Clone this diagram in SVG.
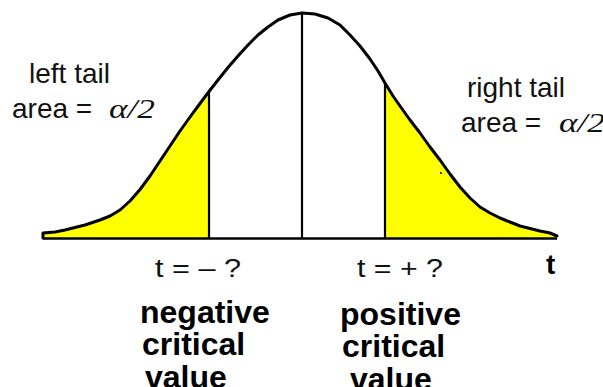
<svg xmlns="http://www.w3.org/2000/svg" width="603" height="387" viewBox="0 0 603 387">
<style>
.tail{fill:#FFFF00;stroke:none}
.ln{stroke:#000;stroke-width:2.2;fill:none}
.curve{stroke:#000;stroke-width:3;fill:none;stroke-linejoin:round;stroke-linecap:round}
.lab{font-family:"Liberation Sans",Arial,sans-serif;font-size:28px;fill:#111}
.greek{font-family:"Liberation Serif","Times New Roman",serif;font-style:italic;font-size:28px;fill:#111}
.tv{font-family:"Liberation Sans",Arial,sans-serif;font-size:26px;fill:#111}
.bold{font-family:"Liberation Sans",Arial,sans-serif;font-size:32px;font-weight:bold;fill:#000}
</style>
<rect width="603" height="387" fill="#fff"/>
<g id="left-tail">
<path class="tail" d="M43,238 L43,233 L55,232 L65,230 L73,228 L85,225 L100,220 L110,216 L120,210 L130,201 L140,189.5 L150,176 L160,161 L170,146 L180,131 L190,117 L200,103.5 L209,91.5 L209,238 Z"/>
</g>
<g id="right-tail">
<path class="tail" d="M385,83 L393,96 L400,106 L410,120 L420,133 L430,147 L440,160 L450,174 L460,187 L470,198 L480,207 L490,213 L500,218 L510,222 L520,226 L530,228.5 L540,231 L550,233 L557,236 L557,238 L385,238 Z"/>
<circle cx="441" cy="173" r="1" fill="#000"/>
</g>
<g id="curve">
<polyline class="curve" points="43,238 43,233 55,232 65,230 73,228 85,225 100,220 110,216 120,210 130,201 140,189.5 150,176 160,161 170,146 180,131 190,117 200,103.5 209,91.5 218,80 228,67.5 238,56 248,45 258,35 268,27 278,20 290,15 302,13 315,14 328,18 340,25 350,35 360,46 370,59 378,71 385,83 393,96 400,106 410,120 420,133 430,147 440,160 450,174 460,187 470,198 480,207 490,213 500,218 510,222 520,226 530,228.5 540,231 550,233 557,236"/>
</g>
<g id="lines">
<line class="ln" x1="43" y1="238.5" x2="557" y2="238.5" style="stroke-width:2.6"/>
<line class="ln" x1="209" y1="91.5" x2="209" y2="238"/>
<line class="ln" x1="302" y1="13" x2="302" y2="238"/>
<line class="ln" x1="385" y1="83" x2="385" y2="238"/>
</g>
<g id="left-label">
<text class="lab" x="29" y="83" textLength="81" lengthAdjust="spacingAndGlyphs">left tail</text>
<text class="lab" x="12" y="118">area =</text>
<text class="greek" x="109" y="118" textLength="46" lengthAdjust="spacingAndGlyphs">α/2</text>
</g>
<g id="right-label">
<text class="lab" x="467" y="97" textLength="98" lengthAdjust="spacingAndGlyphs">right tail</text>
<text class="lab" x="461" y="132">area =</text>
<text class="greek" x="559" y="132" textLength="46" lengthAdjust="spacingAndGlyphs">α/2</text>
</g>
<g id="axis-label">
<text class="bold" x="546" y="274" style="font-size:28px">t</text>
</g>
<g id="neg-critical">
<text class="tv" x="155" y="277" textLength="86" lengthAdjust="spacingAndGlyphs">t = – ?</text>
<text class="bold" x="140" y="323">negative</text>
<text class="bold" x="142" y="355">critical</text>
<text class="bold" x="145" y="388">value</text>
</g>
<g id="pos-critical">
<text class="tv" x="357" y="277" textLength="86" lengthAdjust="spacingAndGlyphs">t = + ?</text>
<text class="bold" x="340" y="325">positive</text>
<text class="bold" x="342" y="357">critical</text>
<text class="bold" x="350" y="390">value</text>
</g>
</svg>
